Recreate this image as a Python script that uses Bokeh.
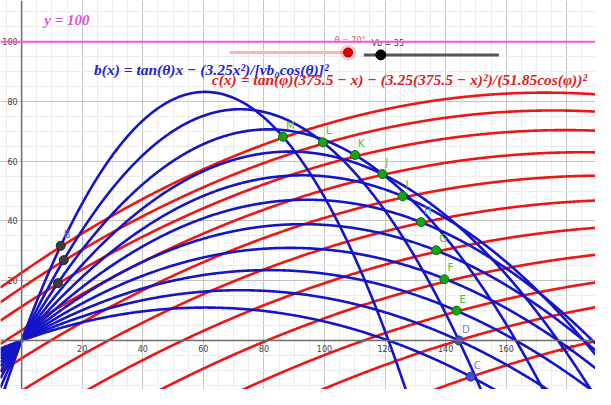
import numpy as np
from bokeh.plotting import figure
from bokeh.models import Range1d, FixedTicker, Span
from bokeh.embed import file_html
from bokeh.resources import INLINE
from bokeh.core.properties import value

# ---- data -------------------------------------------------------------
theta_deg = [70, 65, 60, 55, 50, 45, 40, 35, 30, 25, 20]
v_b0 = 35.0
phi_deg = [39.3, 37.6, 35.7, 33.5, 31.1, 28.5, 25.6, 22.7, 19.7, 17.0, 13.3]
v_c0 = 51.85
x_c0 = 375.5
k_coef = 3.25

meet_labels = ["M", "L", "K", "J", "I", "H", "G", "F", "E"]
meet_x = [86.3, 99.5, 110.1, 119.1, 125.8, 131.9, 136.9, 139.6, 143.6]
meet_y = [68.2, 66.3, 62.1, 55.7, 48.3, 39.6, 30.2, 20.5, 10.0]

blue_pt_labels = ["D", "C"]
blue_pt_x = [144.4, 148.3]
blue_pt_y = [0.0, -12.1]

near_pt_labels = ["B", "", ""]
near_pt_x = [12.9, 13.9, 12.0]
near_pt_y = [31.7, 26.9, 19.2]

x_ticks = [20, 40, 60, 80, 100, 120, 140, 160, 180]
y_ticks = [20, 40, 60, 80, 100]
x_minor = list(range(-5, 190, 5))
y_minor = list(range(-15, 115, 5))

line_y = 100

theta_slider = [68.6, 107.8]    # slider track (x from, x to)
theta_slider_y = 96.4
vb_slider = [113.0, 157.6]
vb_slider_y = 95.6
vb_knob_x = 118.6

# ---- figure -----------------------------------------------------------
X0, X1 = -6.98, 189.5
Y0, Y1 = -16.4, 113.8

p = figure(width=595, height=389, x_range=Range1d(X0, X1), y_range=Range1d(Y0, Y1),
           output_backend="svg", toolbar_location=None, min_border=0,
           background_fill_color="white")
p.outline_line_color = None
p.xaxis.visible = False
p.yaxis.visible = False
p.xgrid.ticker = FixedTicker(ticks=list(range(-20, 200, 20)), minor_ticks=x_minor)
p.ygrid.ticker = FixedTicker(ticks=list(range(-20, 140, 20)), minor_ticks=y_minor)
for g in (p.xgrid, p.ygrid):
    g.grid_line_color = "#c4c4c4"
    g.grid_line_width = 1
    g.minor_grid_line_color = "#ececec"
    g.minor_grid_line_width = 1

# axes
p.add_layout(Span(location=0, dimension="height", line_color="#6e6e6e", line_width=1.5))
p.add_layout(Span(location=0, dimension="width", line_color="#6e6e6e", line_width=1.5))

# tick labels
p.text(x=x_ticks, y=[0] * len(x_ticks), text=[str(t) for t in x_ticks],
       text_align="center", text_baseline="top", y_offset=4,
       text_font=value("DejaVu Sans"), text_font_size="8px", text_color="#404040")
p.text(x=[0] * len(y_ticks), y=y_ticks, text=[str(t) for t in y_ticks],
       text_align="right", text_baseline="middle", x_offset=-4,
       text_font=value("DejaVu Sans"), text_font_size="8px", text_color="#404040")

# y = 100 line
p.add_layout(Span(location=line_y, dimension="width", line_color="#ff55cc", line_width=2))

xs = np.linspace(X0, X1, 800)

# red curves c(x)
kc = k_coef / v_c0 ** 2
for ph in phi_deg:
    t = np.radians(ph)
    u = x_c0 - xs
    yc = np.tan(t) * u - kc * u ** 2 / np.cos(t) ** 2
    p.line(xs, yc, line_color="#f01414", line_width=2.6)

# blue curves b(x)
kb = k_coef / v_b0 ** 2
for th in theta_deg:
    t = np.radians(th)
    yb = np.tan(t) * xs - kb * xs ** 2 / np.cos(t) ** 2
    p.line(xs, yb, line_color="#1414c8", line_width=2.6)

# points
p.scatter(near_pt_x, near_pt_y, size=9, fill_color="#3c3c3c", line_color="#222222", line_width=1)
p.text(x=near_pt_x, y=near_pt_y, text=near_pt_labels, x_offset=3, y_offset=-6,
       text_font=value("DejaVu Sans"), text_font_size="10px", text_color="#7070d0",
       text_baseline="bottom")
p.scatter(meet_x, meet_y, size=9, fill_color="#17a317", line_color="#0c6e0c", line_width=1)
p.text(x=meet_x, y=meet_y, text=meet_labels, x_offset=3, y_offset=-6,
       text_font=value("DejaVu Sans"), text_font_size="10px", text_color="#44c044",
       text_baseline="bottom")
p.scatter(blue_pt_x, blue_pt_y, size=9, fill_color="#4b4bcf", line_color="#2a2aa0", line_width=1)
p.text(x=blue_pt_x, y=blue_pt_y, text=blue_pt_labels, x_offset=3, y_offset=-6,
       text_font=value("DejaVu Sans"), text_font_size="10px", text_color="#7878ee",
       text_baseline="bottom")

# sliders
p.line(theta_slider, [theta_slider_y] * 2, line_color="#ffb4b4", line_width=3)
p.scatter([theta_slider[1]], [theta_slider_y], size=16, fill_color="#ff0000", fill_alpha=0.2, line_color=None)
p.scatter([theta_slider[1]], [theta_slider_y], size=9, fill_color="#e00000", line_color="#900000")
p.line(vb_slider, [vb_slider_y] * 2, line_color="#555555", line_width=3)
p.scatter([vb_knob_x], [vb_slider_y], size=10, fill_color="#000000", line_color="#000000")
p.text(x=[theta_slider[1]], y=[theta_slider_y], text=["θ = 70°"], x_offset=2, y_offset=-7,
       text_align="center", text_baseline="bottom",
       text_font=value("DejaVu Sans"), text_font_size="8px", text_color="#d06060")
p.text(x=[vb_knob_x], y=[vb_slider_y], text=["Vb = 35"], x_offset=7, y_offset=-7,
       text_align="center", text_baseline="bottom",
       text_font=value("DejaVu Sans"), text_font_size="8px", text_color="#404040")

# formula texts
serif = value("Liberation Serif")
p.text(x=[7.5], y=[107.4], text=["y = 100"], text_baseline="middle",
       text_font=serif, text_font_style="bold italic",
       text_font_size="15px", text_color="#e050e0")
p.text(x=[23.9], y=[90.6], text=["b(x) = tan(θ)x − (3.25x²)/[vb₀cos(θ)]²"],
       text_baseline="middle",
       text_font=serif, text_font_style="bold italic",
       text_font_size="15.5px", text_color="#2323d8")
p.text(x=[62.8], y=[87.4], text=["c(x) = tan(φ)(375.5 − x) − (3.25(375.5 − x)²)/(51.85cos(φ))²"],
       text_baseline="middle",
       text_font=serif, text_font_style="bold italic",
       text_font_size="15.5px", text_color="#e01c1c")

open("out.html", "w").write(file_html(p, INLINE))
